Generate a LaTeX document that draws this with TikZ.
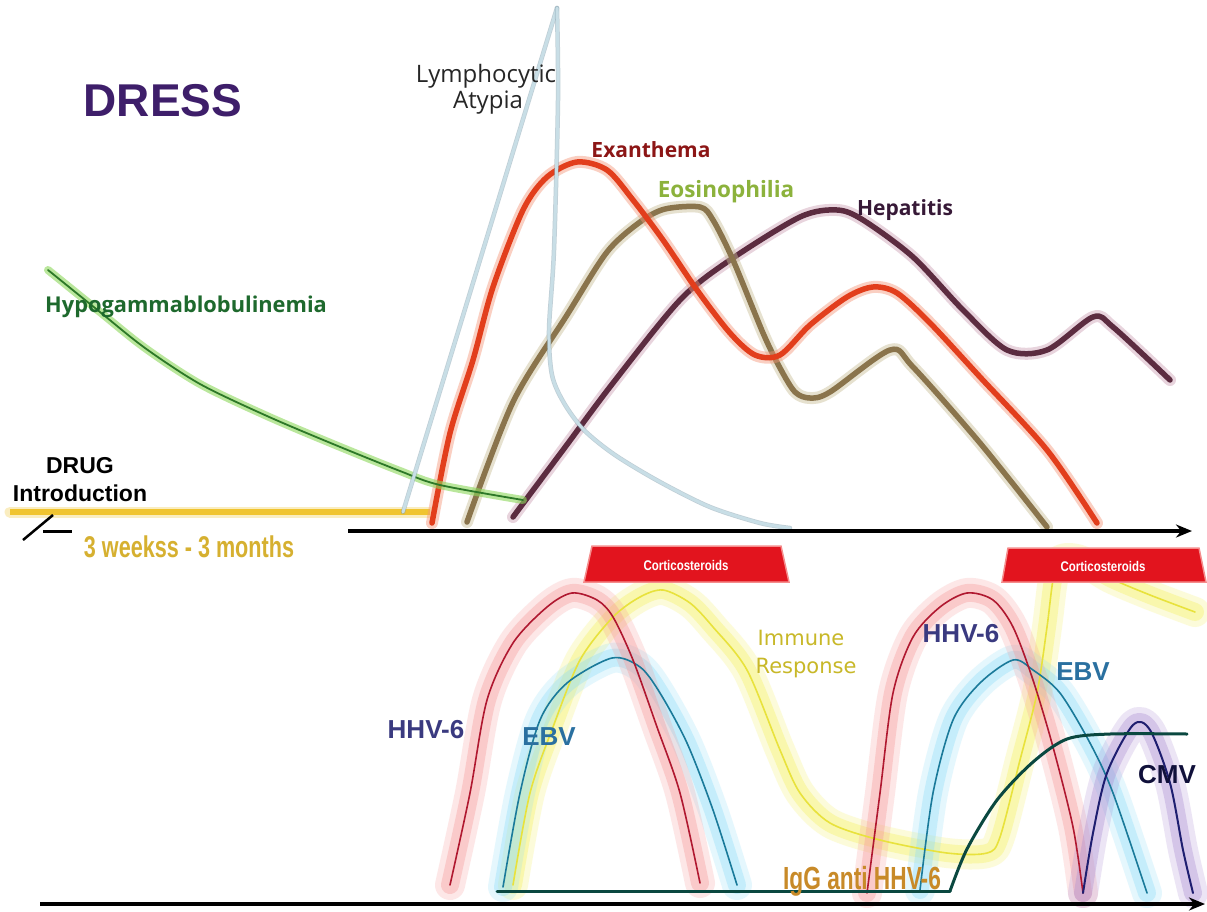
\documentclass[tikz,border=0pt]{standalone}
\usepackage{fontspec}
\usetikzlibrary{arrows.meta}
\newfontfamily\fos{Open Sans}
\newfontfamily\flib{Liberation Sans}
\newfontfamily\fdv{DejaVu Sans}
\definecolor{dresspurple}{RGB}{62,30,106}
\definecolor{exaT}{RGB}{140,22,22}
\definecolor{exaC}{RGB}{226,62,28}
\definecolor{exaG}{RGB}{245,150,120}
\definecolor{eosT}{RGB}{140,178,60}
\definecolor{eosC}{RGB}{138,116,76}
\definecolor{eosG}{RGB}{200,190,150}
\definecolor{hepT}{RGB}{55,25,55}
\definecolor{hepC}{RGB}{92,44,64}
\definecolor{hepG}{RGB}{205,160,180}
\definecolor{hypT}{RGB}{30,105,45}
\definecolor{hypC}{RGB}{45,120,40}
\definecolor{hypG}{RGB}{140,215,90}
\definecolor{lymC}{RGB}{200,222,230}
\definecolor{lymE}{RGB}{130,160,175}
\definecolor{drugY}{RGB}{240,196,48}
\definecolor{weekT}{RGB}{214,176,48}
\definecolor{hhvC}{RGB}{176,24,48}
\definecolor{hhvG}{RGB}{246,150,150}
\definecolor{ebvC}{RGB}{26,122,154}
\definecolor{ebvG}{RGB}{140,220,248}
\definecolor{imC}{RGB}{232,226,60}
\definecolor{imG}{RGB}{245,240,90}
\definecolor{imT}{RGB}{200,184,40}
\definecolor{cmvC}{RGB}{30,30,112}
\definecolor{cmvG}{RGB}{170,140,210}
\definecolor{igC}{RGB}{10,72,64}
\definecolor{igT}{RGB}{200,138,40}
\definecolor{hhvT}{RGB}{58,58,128}
\definecolor{ebvT}{RGB}{42,112,160}
\definecolor{cmvT}{RGB}{16,16,58}
\definecolor{corRed}{RGB}{226,20,30}
\definecolor{corEdge}{RGB}{245,140,140}
\begin{document}
\begin{tikzpicture}[x=1pt,y=-1pt,
  lbl/.style={inner sep=0pt, anchor=base},
  soft/.style={line cap=round, line join=round},
  wideglow/.style={soft, line width=30pt, opacity=0.22},
  midglow/.style={soft, line width=18pt, opacity=0.35},
  thinline/.style={soft, line width=1.6pt},
  topglow/.style={soft, line width=12pt, opacity=0.45},
  topline/.style={soft, line width=5.5pt},
  corbox/.style={fill=corRed, draw=corEdge, line width=1.5pt},
  axisline/.style={line width=3.5pt, -{Stealth[length=16pt,width=13pt]}}
]
\useasboundingbox (0,0) rectangle (1207,911);
\fill[white] (0,0) rectangle (1207,911);

% ---------------- top section ----------------
% drug line
\draw[soft, line width=11pt, drugY, opacity=.3] (10,512) -- (430,512);
\draw[line width=5.5pt, drugY] (10,512) -- (430,512);

% Hepatitis
\def\hep{(513,517) (563,450) (613,383) (680,300) (730,260) (800,217) (837,210) (863,220) (913,257) (963,310) (1007,350) (1047,350) (1093,317) (1113,327) (1170,380)}
\draw[topglow, hepG] plot[smooth] coordinates {\hep};
\draw[topline, hepC] plot[smooth] coordinates {\hep};
% Eosinophilia
\def\eos{(467,522) (513,402) (567,315) (607,252) (640,222) (665,209) (700,207) (713,220) (733,260) (763,333) (780,368) (795,392) (810,398) (830,392) (890,350) (913,367) (980,443) (1047,527)}
\draw[topglow, eosG] plot[smooth] coordinates {\eos};
\draw[topline, eosC] plot[smooth] coordinates {\eos};
% Exanthema
\def\exa{(432,523) (450,433) (473,360) (493,287) (523,210) (547,177) (577,162) (607,170) (633,200) (663,240) (697,290) (730,333) (755,355) (780,355) (810,325) (847,297) (873,287) (897,293) (930,323) (980,377) (1047,450) (1097,523)}
\draw[topglow, exaG] plot[smooth] coordinates {\exa};
\draw[topline, exaC] plot[smooth] coordinates {\exa};
% Hypogammaglobulinemia
\def\hyp{(48,270) (100,312) (145,348) (200,384) (267,416) (333,444) (400,471) (440,485) (523,500)}
\draw[soft, line width=8pt, hypG, opacity=.6] plot[smooth] coordinates {\hyp};
\draw[soft, line width=1.8pt, hypC] plot[smooth] coordinates {\hyp};
% Lymphocytic atypia
\draw[soft, line width=4.5pt, lymE, opacity=.5] (403,512) -- (557,8);
\draw[soft, line width=3pt, lymC] (403,512) -- (557,8);
\def\lym{(557,8) (558,100) (554,250) (549,330) (552,375) (564,403) (584,430) (615,455) (660,482) (710,507) (760,523) (790,528)}
\draw[soft, line width=4.5pt, lymE, opacity=.5] plot[smooth] coordinates {\lym};
\draw[soft, line width=3pt, lymC] plot[smooth] coordinates {\lym};

% axis and drug marker
\draw[axisline] (348,531) -- (1192,531);
\draw[line width=3pt] (43,531) -- (72,531);
\draw[line width=2.5pt] (23,540) -- (53,515);

% labels top
\node[lbl, text=dresspurple, font=\flib\bfseries\fontsize{46}{50}\selectfont] (dress) at (163,116) {DRESS};
\node[lbl, text=black!85, font=\fos\fontsize{24}{28}\selectfont] (lym1) at (486,82) {Lymphocytic};
\node[lbl, text=black!85, font=\fos\fontsize{24}{28}\selectfont] (lym2) at (488,108) {Atypia};
\node[lbl, text=exaT, font=\fos\bfseries\fontsize{21}{25}\selectfont] (exa) at (651,157) {Exanthema};
\node[lbl, text=eosT, font=\fos\bfseries\fontsize{22.5}{26}\selectfont] (eos) at (726,197) {Eosinophilia};
\node[lbl, text=hepT, font=\fos\bfseries\fontsize{21}{25}\selectfont] (hep) at (905,215) {Hepatitis};
\node[lbl, anchor=base west, text=hypT, font=\fos\bfseries\fontsize{21.8}{25}\selectfont] (hyp) at (45,312) {Hypogammablobulinemia};
\node[lbl, text=black, font=\flib\bfseries\fontsize{23}{27}\selectfont] (drug1) at (80,473) {DRUG};
\node[lbl, text=black, font=\flib\bfseries\fontsize{23}{27}\selectfont] (drug2) at (80,501) {Introduction};
\node[lbl, text=weekT, font=\flib\bfseries\fontsize{30}{34}\selectfont] (weeks) at (189,557) {\scalebox{0.72}[1]{3 weekss - 3 months}};

% ---------------- bottom section ----------------
\def\ima{(513,885) (530,793) (553,727) (580,660) (613,617) (640,597) (663,590) (690,603) (713,627) (747,670) (780,750) (800,793) (830,823) (880,840) (947,853) (987,853) (1000,837) (1020,760) (1037,693) (1047,627) (1053,580) (1060,560) (1080,560) (1110,578) (1150,595) (1195,612)}
\def\hha{(450,885) (470,793) (487,700) (513,643) (547,607) (572,593) (597,600) (613,617) (633,660) (657,727) (680,793) (700,883)}
\def\eba{(503,887) (520,793) (540,720) (567,683) (612,658) (640,667) (660,693) (687,743) (713,810) (737,885)}
\def\hhb{(867,893) (880,793) (893,693) (913,637) (940,607) (967,593) (993,600) (1013,627) (1033,680) (1053,747) (1073,827) (1083,893)}
\def\ebb{(920,890) (933,793) (953,720) (980,683) (1013,660) (1033,670) (1060,693) (1090,743) (1113,793) (1147,893)}
\def\cmv{(1083,893) (1093,833) (1107,773) (1133,725) (1150,730) (1170,783) (1183,850) (1193,893)}

\draw[wideglow, imG] plot[smooth] coordinates {\ima};
\draw[midglow, imG] plot[smooth] coordinates {\ima};
\draw[wideglow, ebvG] plot[smooth] coordinates {\eba};
\draw[midglow, ebvG] plot[smooth] coordinates {\eba};
\draw[wideglow, ebvG] plot[smooth] coordinates {\ebb};
\draw[midglow, ebvG] plot[smooth] coordinates {\ebb};
\draw[wideglow, hhvG] plot[smooth] coordinates {\hha};
\draw[midglow, hhvG] plot[smooth] coordinates {\hha};
\draw[wideglow, hhvG] plot[smooth] coordinates {\hhb};
\draw[midglow, hhvG] plot[smooth] coordinates {\hhb};
\draw[wideglow, cmvG] plot[smooth] coordinates {\cmv};
\draw[midglow, cmvG] plot[smooth] coordinates {\cmv};

\draw[thinline, imC] plot[smooth] coordinates {\ima};
\draw[thinline, ebvC] plot[smooth] coordinates {\eba};
\draw[thinline, ebvC] plot[smooth] coordinates {\ebb};
\draw[thinline, hhvC] plot[smooth] coordinates {\hha};
\draw[thinline, hhvC] plot[smooth] coordinates {\hhb};
\draw[thinline, line width=2pt, cmvC] plot[smooth] coordinates {\cmv};

% IgG anti HHV-6
\draw[soft, line width=3pt, igC] (497,891) -- (950,891);
\draw[soft, line width=3pt, igC] plot[smooth] coordinates {(950,891) (967,849) (997,800) (1033,762) (1067,739) (1110,734) (1187,734)};

% corticosteroid boxes
\draw[corbox] (592,546) -- (781,546) -- (789,582) -- (584,582) -- cycle;
\draw[corbox] (1008,548) -- (1199,548) -- (1206,582) -- (1002,582) -- cycle;
\node[text=white, font=\flib\bfseries\fontsize{14}{16}\selectfont, inner sep=0pt] (cor1) at (686,565) {\scalebox{0.82}[1]{Corticosteroids}};
\node[text=white, font=\flib\bfseries\fontsize{14}{16}\selectfont, inner sep=0pt] (cor2) at (1103,566) {\scalebox{0.82}[1]{Corticosteroids}};

% bottom axis
\draw[axisline] (40,904) -- (1205,904);

% labels bottom
\node[lbl, text=imT, font=\fdv\fontsize{21}{25}\selectfont] (imm1) at (801,645) {Immune};
\node[lbl, text=imT, font=\fdv\fontsize{21}{25}\selectfont] (imm2) at (806,673) {Response};
\node[lbl, text=hhvT, font=\flib\bfseries\fontsize{26}{30}\selectfont] (hhv1) at (426,738) {HHV-6};
\node[lbl, text=ebvT, font=\flib\bfseries\fontsize{26}{30}\selectfont] (ebv1) at (549,745) {EBV};
\node[lbl, text=hhvT, font=\flib\bfseries\fontsize{26}{30}\selectfont] (hhv2) at (961,642) {HHV-6};
\node[lbl, text=ebvT, font=\flib\bfseries\fontsize{26}{30}\selectfont] (ebv2) at (1083,680) {EBV};
\node[lbl, text=cmvT, font=\flib\bfseries\fontsize{26}{30}\selectfont] (cmv) at (1167,783) {CMV};
\node[lbl, text=igT, font=\flib\bfseries\fontsize{32}{36}\selectfont] (igg) at (862,889) {\scalebox{0.71}[1]{IgG anti HHV-6}};
\end{tikzpicture}
\end{document}
